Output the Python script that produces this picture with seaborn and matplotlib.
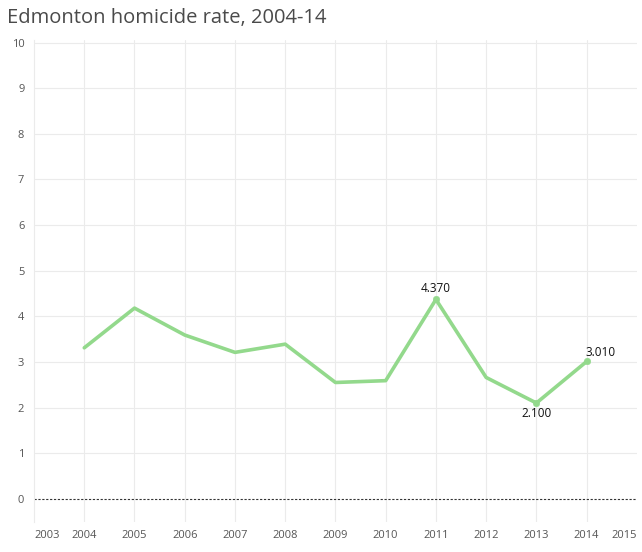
import matplotlib
matplotlib.use("Agg")

import pandas as pd
import matplotlib.pyplot as plt
import seaborn as sns

# ===============================
# data
# ===============================
years = [2004, 2005, 2006, 2007, 2008, 2009, 2010, 2011, 2012, 2013, 2014]
rates = [3.31, 4.18, 3.59, 3.21, 3.39, 2.55, 2.59, 4.37, 2.66, 2.10, 3.01]
labelled_years = [2011, 2013, 2014]
tick_years = list(range(2003, 2016))
y_ticks = list(range(0, 11))

df = pd.DataFrame({"year": years, "rate": rates})

# ===============================
# style
# ===============================
sns.set_style("white")
plt.rcParams["font.family"] = ["Open Sans", "DejaVu Sans"]

line_color = "#93d98c"
grid_color = "#ebebeb"
text_color = "#555555"

fig = plt.figure(figsize=(6.42, 5.52), dpi=100)
ax = fig.add_axes([0.053, 0.055, 0.939, 0.872])

sns.lineplot(data=df, x="year", y="rate", color=line_color, linewidth=2.6,
             ax=ax, legend=False)

pts = df[df["year"].isin(labelled_years)]
sns.scatterplot(data=pts, x="year", y="rate", color=line_color, s=22,
                edgecolor=None, ax=ax, legend=False, zorder=3)

# labels on points
offsets = {2011: (0, 3, "center", "bottom"),
           2013: (0, -3, "center", "top"),
           2014: (-1, 2, "left", "bottom")}
for yr, val in zip(pts["year"], pts["rate"]):
    dx, dy, ha, va = offsets[yr]
    ax.annotate(f"{val:.3f}", (yr, val), xytext=(dx, dy),
                textcoords="offset points", ha=ha, va=va,
                fontsize=8.5, color="#111111")

# ===============================
# axes
# ===============================
ax.set_xlim(2003, 2015)
ax.set_ylim(-0.5, 10.05)
ax.set_xticks(tick_years)
ax.set_xticklabels([str(t) for t in tick_years], fontsize=8, color=text_color)
ax.set_yticks(y_ticks)
ax.set_yticklabels([str(t) for t in y_ticks], fontsize=8, color=text_color)
xl = ax.get_xticklabels()
xl[0].set_ha("left")
xl[-1].set_ha("right")

ax.tick_params(axis="both", length=4, width=0.6, color="#cccccc", pad=3)
ax.tick_params(axis="x", pad=2)

for yv in y_ticks[1:]:
    ax.axhline(yv, color=grid_color, linewidth=0.8, zorder=0)
for xv in tick_years[1:-1]:
    ax.axvline(xv, color=grid_color, linewidth=0.8, zorder=0)
ax.axhline(0, color="#333333", linewidth=0.8, linestyle=(0, (2, 1.5)), zorder=1)

for side in ["top", "right", "bottom"]:
    ax.spines[side].set_visible(False)
ax.spines["left"].set_color(grid_color)
ax.spines["left"].set_linewidth(0.8)

ax.set_xlabel("")
ax.set_ylabel("")

fig.text(0.011, 0.968, "Edmonton homicide rate, 2004-14", fontsize=14.5,
         color="#4a4a4a", ha="left", va="center")

plt.savefig("out.png", dpi=100)
plt.close()
